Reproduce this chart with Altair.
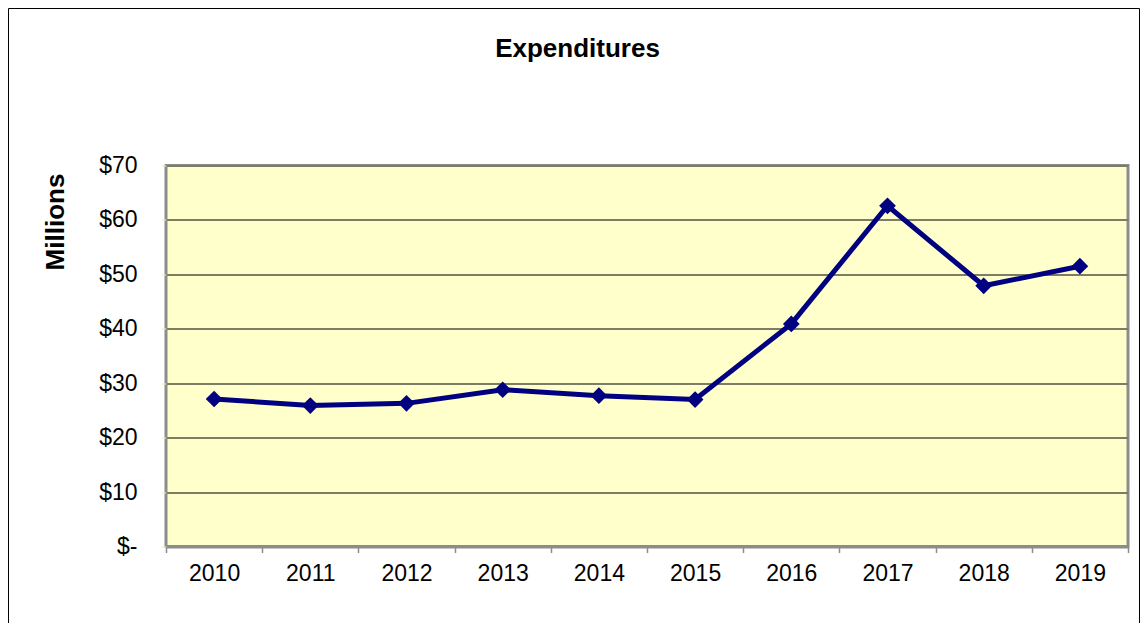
import altair as alt
import pandas as pd

years = ["2010", "2011", "2012", "2013", "2014", "2015", "2016", "2017", "2018", "2019"]
expenditures = [27.1, 25.9, 26.3, 28.8, 27.7, 27.0, 40.9, 62.6, 47.9, 51.5]
y_ticks = [0, 10, 20, 30, 40, 50, 60, 70]
chart_title = "Expenditures"
y_title = "Millions"

df = pd.DataFrame({"year": years, "value": expenditures})
FONT = "Liberation Sans"

x_enc = alt.X(
    "year:O",
    sort=years,
    bandPosition=0.5,
    scale=alt.Scale(type="band", paddingInner=0, paddingOuter=0),
    axis=alt.Axis(
        title=None, labelAngle=0, tickBand="extent", grid=False,
        domainColor="#8c8c8c", domainWidth=3, tickColor="#8c8c8c",
        tickSize=6, tickWidth=1.5, labelPadding=10, labelFontSize=23,
        labelFont=FONT, labelColor="black",
    ),
)
y_enc = alt.Y(
    "value:Q",
    scale=alt.Scale(domain=[0, 70], nice=False, zero=True),
    axis=alt.Axis(
        values=y_ticks, title=y_title, titleFont=FONT, titleFontSize=26,
        titleFontWeight="bold", titleColor="black", titleBaseline="alphabetic",
        titleAlign="center", titleX=-103, titleY=56,
        labelExpr="datum.value == 0 ? '$-' : '$' + datum.value",
        labelFont=FONT, labelFontSize=23, labelColor="black", labelPadding=24,
        domain=False, tickColor="#eeeebb", tickSize=5,
        grid=True, gridColor="#7d7d66", gridWidth=2,
    ),
)

line = alt.Chart(df).mark_line(
    color="#000080", strokeWidth=5,
    point=alt.OverlayMarkDef(shape="diamond", size=280, filled=True, color="#000080", opacity=1),
).encode(x=x_enc, y=y_enc)

one = pd.DataFrame({"f": [1]})
frame_left = alt.Chart(one).mark_rule(color="black", strokeWidth=1).encode(
    x=alt.value(-157.5), y=alt.value(-157), y2=alt.value(470)
)
frame_top = alt.Chart(one).mark_rule(color="black", strokeWidth=1).encode(
    x=alt.value(-157.5), x2=alt.value(973.5), y=alt.value(-157)
)
frame_right = alt.Chart(one).mark_rule(color="black", strokeWidth=1).encode(
    x=alt.value(973.5), y=alt.value(-157), y2=alt.value(470)
)

title = alt.Chart(pd.DataFrame({"t": [chart_title]})).mark_text(
    font=FONT, fontSize=26, fontWeight="bold", align="center", baseline="alphabetic", color="black"
).encode(text="t:N", x=alt.value(411.5), y=alt.value(-109))

chart = alt.layer(frame_left, frame_top, frame_right, line, title).properties(
    width=962, height=381,
    background="white",
    autosize=alt.AutoSizeParams(type="none"),
    padding={"left": 158, "top": 157.5, "right": 12, "bottom": 76},
).configure_view(
    fill="#FFFFCC", stroke="#8c8c8c", strokeWidth=3
)

chart.save("out.html", embed_options={"renderer": "svg", "actions": False})
